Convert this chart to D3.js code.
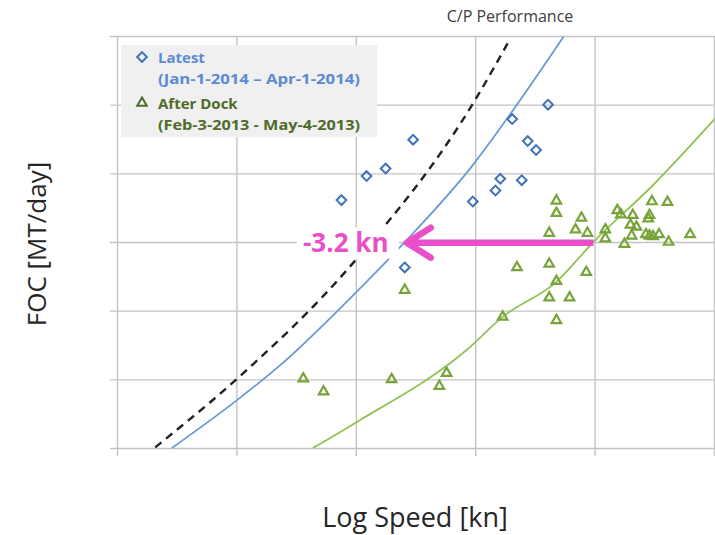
<!DOCTYPE html>
<html>
<head>
<meta charset="utf-8">
<script src="https://cdn.jsdelivr.net/npm/d3@7"></script>
<style>
  body { margin: 0; background: white; }
  svg { display: block; }
</style>
</head>
<body>
<svg id="chart" width="715" height="535"></svg>
<script>
// grid ticks (no labels shown on the original)
const xTicks = [0, 1, 2, 3, 4, 5];
const yTicks = [0, 1, 2, 3, 4, 5, 6];

// Latest (Jan-1-2014 – Apr-1-2014): [speed, FOC]
const latestPts = [
    [1.88, 3.61], [2.09, 3.96], [2.25, 4.07], [2.48, 4.49], [2.98, 3.59],
    [3.17, 3.75], [3.21, 3.92], [3.39, 3.90], [3.31, 4.79], [3.44, 4.47],
    [3.51, 4.34], [3.61, 5.00], [2.41, 2.63]
];

// After Dock (Feb-3-2013 - May-4-2013)
const dockPts = [
    [3.68, 3.60], [3.68, 3.42], [3.89, 3.35], [3.62, 3.13], [3.84, 3.18],
    [3.94, 3.13], [4.09, 3.18], [4.09, 3.05], [4.19, 3.46], [4.22, 3.40],
    [4.32, 3.39], [4.30, 3.25], [4.35, 3.22], [4.31, 3.09], [4.25, 2.97],
    [4.46, 3.39], [4.48, 3.59], [4.61, 3.58], [4.45, 3.34], [4.43, 3.11],
    [4.46, 3.09], [4.49, 3.08], [4.54, 3.11], [4.62, 3.00], [4.80, 3.11],
    [3.35, 2.63], [3.62, 2.68], [3.93, 2.56], [3.68, 2.43], [3.62, 2.19],
    [3.79, 2.19], [3.23, 1.91], [3.68, 1.86], [2.41, 2.30], [1.56, 1.01],
    [1.73, 0.82], [2.30, 1.00], [2.76, 1.09], [2.70, 0.90]
];

// performance curves
const cpCurve = [[0.32, 0.01], [1.00, 1.00], [1.95, 2.64], [3.00, 5.07], [3.28, 5.92]];
const latestCurve = [[0.46, 0.0], [1.00, 0.69], [1.37, 1.21], [2.01, 2.28], [2.40, 2.98],
                     [2.98, 4.12], [3.26, 4.78], [3.74, 5.99]];
const dockCurve = [[1.64, 0.0], [2.01, 0.38], [2.93, 1.43], [3.23, 1.91], [3.68, 2.42],
                   [3.99, 3.00], [4.49, 3.83], [5.01, 4.80]];

// speed drop arrow
const arrowFrom = [3.99, 2.99];
const arrowTo = [2.41, 2.99];
const arrowLabel = "-3.2 kn";

const legendItems = [
    { name: "Latest", range: "(Jan-1-2014 \u2013 Apr-1-2014)", color: "#5b8bd4", mark: "diamond" },
    { name: "After Dock", range: "(Feb-3-2013 - May-4-2013)", color: "#4f6b2a", mark: "triangle" }
];

const svg = d3.select("svg#chart");
const x = d3.scaleLinear().domain([0, 5]).range([117, 714]);
const y = d3.scaleLinear().domain([0, 6]).range([448, 36]);

const blueMark = "#3f72b8";
const greenMark = "#78a33a";
const font = "'Open Sans', 'Liberation Sans', sans-serif";

// grid lines via axes
svg.append("g")
    .attr("transform", "translate(0,456)")
    .call(d3.axisBottom(x).tickValues(xTicks).tickSize(-(456 - 36)).tickFormat(""))
    .call(g => g.select(".domain").remove())
    .call(g => g.selectAll(".tick line").attr("stroke", "#c4c4c4").attr("stroke-width", 1.4));

svg.append("g")
    .attr("transform", "translate(110,0)")
    .call(d3.axisLeft(y).tickValues(yTicks).tickSize(-(714 - 110)).tickFormat(""))
    .call(g => g.select(".domain").remove())
    .call(g => g.selectAll(".tick line").attr("stroke", "#c4c4c4").attr("stroke-width", 1.4));

// curves
const line = d3.line().x(d => x(d[0])).y(d => y(d[1])).curve(d3.curveMonotoneX);
svg.append("clipPath").attr("id", "plot")
    .append("rect").attr("x", 117).attr("y", 36).attr("width", 598).attr("height", 412);

svg.append("path").datum(cpCurve).attr("d", line)
    .attr("fill", "none").attr("stroke", "#222").attr("stroke-width", 2.4)
    .attr("stroke-dasharray", "8,6");
svg.append("path").datum(latestCurve).attr("d", line)
    .attr("fill", "none").attr("stroke", "#6a9ad6").attr("stroke-width", 1.8);
svg.append("path").datum(dockCurve).attr("d", line).attr("clip-path", "url(#plot)")
    .attr("fill", "none").attr("stroke", "#94c158").attr("stroke-width", 1.8);

// markers
const diamond = d3.symbol().type(d3.symbolDiamond2).size(60);
const triangle = d3.symbol().type(d3.symbolTriangle2).size(65);

svg.selectAll("path.latest").data(latestPts).join("path")
    .attr("class", "latest")
    .attr("d", diamond)
    .attr("transform", d => `translate(${x(d[0])},${y(d[1])})`)
    .attr("fill", "none").attr("stroke", blueMark).attr("stroke-width", 2);

svg.selectAll("path.dock").data(dockPts).join("path")
    .attr("class", "dock")
    .attr("d", triangle)
    .attr("transform", d => `translate(${x(d[0])},${y(d[1])})`)
    .attr("fill", "none").attr("stroke", greenMark).attr("stroke-width", 2.2);

// label with white backing (drawn before the arrow)
const pink = "#e84fc8";
const ax0 = x(arrowFrom[0]), ax1 = x(arrowTo[0]), ay = y(arrowTo[1]);
svg.append("rect")
    .attr("x", ax1 - 108).attr("y", ay - 15).attr("width", 102).attr("height", 31)
    .attr("fill", "white");
svg.append("text")
    .attr("x", ax1 - 59).attr("y", ay + 9)
    .attr("text-anchor", "middle")
    .attr("font-family", font).attr("font-weight", "bold").attr("font-size", 26)
    .attr("fill", pink)
    .text(arrowLabel);

// arrow
svg.append("line")
    .attr("x1", ax0).attr("y1", ay).attr("x2", ax1 + 8).attr("y2", ay)
    .attr("stroke", pink).attr("stroke-width", 6.5);
svg.append("path")
    .attr("d", `M${ax1 + 26},${ay - 15} L${ax1 + 2},${ay} L${ax1 + 26},${ay + 15}`)
    .attr("fill", "none").attr("stroke", pink).attr("stroke-width", 6.5)
    .attr("stroke-linecap", "round").attr("stroke-linejoin", "round");

// legend
svg.append("rect").attr("x", 121).attr("y", 45).attr("width", 256).attr("height", 92).attr("fill", "#f0f0f0");
const leg = svg.selectAll("g.leg").data(legendItems).join("g")
    .attr("class", "leg")
    .attr("transform", (d, i) => `translate(0,${i * 46})`);
leg.append("path")
    .attr("d", d => d.mark === "diamond" ? diamond() : triangle())
    .attr("transform", "translate(142,57)")
    .attr("fill", "none")
    .attr("stroke", d => d.mark === "diamond" ? blueMark : d.color)
    .attr("stroke-width", 2);
leg.append("text").attr("x", 158).attr("y", 63)
    .attr("font-family", font).attr("font-weight", "bold").attr("font-size", 15)
    .attr("fill", d => d.color).text(d => d.name);
leg.append("text").attr("x", 158).attr("y", 84)
    .attr("font-family", font).attr("font-weight", "bold").attr("font-size", 15)
    .attr("textLength", 202).attr("lengthAdjust", "spacingAndGlyphs")
    .attr("fill", d => d.color).text(d => d.range);

// titles
svg.append("text").attr("x", 510).attr("y", 22).attr("text-anchor", "middle")
    .attr("font-family", font).attr("font-size", 16).attr("fill", "#404040")
    .text("C/P Performance");
svg.append("text").attr("x", 415).attr("y", 527).attr("text-anchor", "middle")
    .attr("font-family", font).attr("font-size", 27).attr("fill", "#262626")
    .text("Log Speed [kn]");
svg.append("text").attr("transform", "translate(46,244) rotate(-90)").attr("text-anchor", "middle")
    .attr("font-family", font).attr("font-size", 26).attr("fill", "#262626")
    .text("FOC [MT/day]");
</script>
</body>
</html>
